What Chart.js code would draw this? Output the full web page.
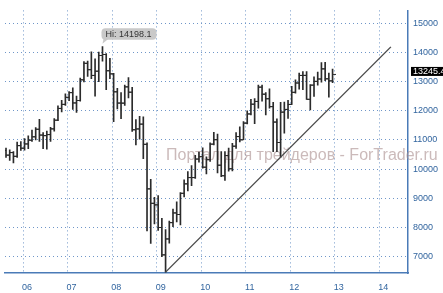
<!DOCTYPE html>
<html>
<head>
<meta charset="utf-8">
<script src="https://cdn.jsdelivr.net/npm/chart.js@4.4.1/dist/chart.umd.min.js"></script>
<style>
  html, body { margin: 0; padding: 0; background: #fff; overflow: hidden; }
  #wrap { width: 443px; height: 293px; }
</style>
</head>
<body>
<div id="wrap"><canvas id="djia-chart" width="443" height="293"></canvas></div>
<script>
// месячные бары, первый бар - июль 2005
const firstYear = 2005;
const firstMonth = 6; // 0 = январь

const opens = [
    10275, 10641, 10482, 10569, 10440, 10806,
    10718, 10865, 10993, 11109, 11367, 11168, 11150, 11186, 11381, 11679, 12081, 12221,
    12463, 12622, 12269, 12354, 13063, 13628, 13409, 13212, 13358, 13896, 13930, 13372,
    13265, 12650, 12266, 12263, 12820, 12638, 11350, 11378, 11544, 10851, 9325, 8829,
    8776, 8001, 7063, 7609, 8168, 8500, 8447, 9172, 9496, 9712, 9713, 10345,
    10428, 10067, 10325, 10857, 11009, 10137, 9774, 10466, 10015, 10788, 11118, 11006,
    11578, 11892, 12226, 12320, 12811, 12570, 12414, 12143, 11614, 10913, 11955, 12046,
    12218, 12633, 12952, 13212, 13214, 12393, 12880, 13009, 13091, 13437, 13096, 13026
];
const highs = [
    10720, 10720, 10660, 10600, 10930, 10940,
    11045, 11140, 11335, 11420, 11710, 11250, 11300, 11430, 11730, 12170, 12360, 12580,
    12660, 12790, 12500, 13120, 13690, 13700, 14020, 13780, 14010, 14198.1, 13960, 13800,
    13280, 12770, 12620, 12880, 13140, 12800, 11700, 11810, 11790, 10900, 9650, 9030,
    9090, 8310, 7930, 8220, 8630, 8880, 9200, 9630, 9920, 10120, 10470, 10580,
    10730, 10420, 10900, 11260, 11200, 10600, 10600, 10720, 10880, 11250, 11450, 11630,
    12000, 12390, 12420, 12880, 12880, 12620, 12750, 12290, 11720, 12290, 12300, 12360,
    12840, 13060, 13290, 13340, 13340, 12900, 13160, 13330, 13650, 13660, 13290, 13430
];
const lows = [
    10270, 10400, 10300, 10215, 10400, 10640,
    10650, 10700, 10950, 11000, 10950, 10700, 10680, 10950, 11300, 11660, 11960, 12180,
    12350, 12050, 11940, 12330, 12990, 13180, 13100, 12500, 13000, 13700, 12720, 13100,
    11630, 12060, 11730, 12180, 12440, 11290, 10830, 11030, 10360, 7880, 7450, 8120,
    7900, 7000, 6470, 7460, 8030, 8190, 8090, 9050, 9250, 9430, 9680, 10240,
    10030, 9840, 10260, 10830, 9870, 9740, 9610, 9930, 9940, 10710, 10930, 11010,
    11550, 11860, 11560, 12090, 12330, 11860, 12090, 10600, 10600, 10400, 11230, 11740,
    12220, 12600, 12740, 12720, 12390, 12030, 12490, 12880, 12980, 13030, 12470, 12960
];
const closes = [
    10641, 10482, 10569, 10440, 10806, 10718,
    10865, 10993, 11109, 11367, 11168, 11150, 11186, 11381, 11679, 12081, 12221, 12463,
    12622, 12269, 12354, 13063, 13628, 13409, 13212, 13358, 13896, 13930, 13372, 13265,
    12650, 12266, 12263, 12820, 12638, 11350, 11378, 11544, 10851, 9325, 8829, 8776,
    8001, 7063, 7609, 8168, 8500, 8447, 9172, 9496, 9712, 9713, 10345, 10428,
    10067, 10325, 10857, 11009, 10137, 9774, 10466, 10015, 10788, 11118, 11006, 11578,
    11892, 12226, 12320, 12811, 12570, 12414, 12143, 11614, 10913, 11955, 12046, 12218,
    12633, 12952, 13212, 13214, 12393, 12880, 13009, 13091, 13437, 13096, 13026, 13245.45
];

// линия тренда от минимума 2009 года
const trendX = [2009.2, 2014.26];
const trendY = [6470, 14190];

const yearTicks = [2006, 2007, 2008, 2009, 2010, 2011, 2012, 2013, 2014];
const priceTicks = [7000, 8000, 9000, 10000, 11000, 12000, 13000, 14000, 15000];
const watermarkText = "Портал для трейдеров - ForTrader.ru";

const barColor = "#2b2b2b";
const gridColor = "#6f96c8";
const axisColor = "#4a7bb7";
const labelColor = "#32659f";
const tickFont = { family: "'Liberation Sans', Arial, sans-serif", size: 9 };

// позиция бара на оси времени (в годах)
const xs = opens.map((o, i) => {
    const m = firstMonth + i;
    return firstYear + Math.floor(m / 12) + ((m % 12) + 0.4) / 12;
});

// засечки открытия / закрытия
function makeTick(side) {
    const c = document.createElement("canvas");
    c.width = 7;
    c.height = 3;
    const g = c.getContext("2d");
    g.fillStyle = barColor;
    if (side === "open") {
        g.fillRect(0, 1, 3.5, 1);
    } else {
        g.fillRect(3.5, 1, 3.5, 1);
    }
    return c;
}

const overlayPlugin = {
    id: "overlay",
    beforeDatasetsDraw(chart) {
        const ctx = chart.ctx;
        ctx.save();
        ctx.font = "16px 'Liberation Sans', sans-serif";
        ctx.fillStyle = "rgba(168, 140, 140, 0.6)";
        ctx.textBaseline = "alphabetic";
        ctx.fillText(watermarkText, 166, 160);
        ctx.restore();
    },
    afterDraw(chart) {
        const ctx = chart.ctx;
        const x = chart.scales.x;
        const y = chart.scales.y;
        const font = tickFont.size + "px " + tickFont.family;

        // метка максимума
        const hiIndex = highs.indexOf(Math.max(...highs));
        const hx = x.getPixelForValue(xs[hiIndex]);
        const hy = y.getPixelForValue(highs[hiIndex]);
        const boxX = hx - 1, boxY = hy - 18.5, boxW = 55, boxH = 11.5;
        ctx.save();
        ctx.fillStyle = "#c9c9c9";
        ctx.beginPath();
        ctx.roundRect(boxX, boxY, boxW, boxH, 4);
        ctx.fill();
        ctx.beginPath();
        ctx.moveTo(boxX + 2, boxY + boxH - 1);
        ctx.lineTo(boxX + 7, boxY + boxH - 1);
        ctx.lineTo(boxX + 1, boxY + boxH + 4);
        ctx.closePath();
        ctx.fill();
        ctx.fillStyle = "#333";
        ctx.font = font;
        ctx.textBaseline = "middle";
        ctx.fillText("Hi: " + highs[hiIndex], boxX + 4, boxY + boxH / 2 + 0.5);

        // последняя цена
        const last = closes[closes.length - 1];
        const ly = y.getPixelForValue(last) - 3;
        ctx.fillStyle = "#000";
        ctx.fillRect(x.right + 3, ly - 4.5, 40, 9);
        ctx.fillStyle = "#fff";
        ctx.fillText(String(last), x.right + 5, ly + 0.5);
        ctx.restore();
    }
};

const ctx = document.getElementById("djia-chart").getContext("2d");

new Chart(ctx, {
    type: "bar",
    data: {
        datasets: [
            {
                type: "bar",
                data: xs.map((v, i) => ({ x: v, y: [lows[i], highs[i]] })),
                backgroundColor: barColor,
                barThickness: 1,
                grouped: false,
                order: 2
            },
            {
                type: "line",
                data: xs.map((v, i) => ({ x: v, y: opens[i] })),
                showLine: false,
                pointStyle: makeTick("open"),
                order: 2
            },
            {
                type: "line",
                data: xs.map((v, i) => ({ x: v, y: closes[i] })),
                showLine: false,
                pointStyle: makeTick("close"),
                order: 2
            },
            {
                type: "line",
                data: trendX.map((v, i) => ({ x: v, y: trendY[i] })),
                borderColor: "#4a4a4a",
                borderWidth: 1.4,
                pointRadius: 0,
                order: 1
            }
        ]
    },
    options: {
        responsive: false,
        devicePixelRatio: 1,
        animation: false,
        events: [],
        layout: { padding: 0 },
        plugins: {
            legend: { display: false },
            tooltip: { enabled: false }
        },
        scales: {
            x: {
                type: "linear",
                position: "bottom",
                min: 2005.594,
                max: 2014.644,
                offset: false,
                afterBuildTicks: s => { s.ticks = yearTicks.map(v => ({ value: v })); },
                afterFit: s => { s.height = 20; },
                grid: {
                    offset: false,
                    color: gridColor,
                    lineWidth: 1,
                    drawTicks: false
                },
                border: { color: axisColor, width: 1.5, dash: [1, 3] },
                ticks: {
                    color: labelColor,
                    font: tickFont,
                    padding: 9,
                    labelOffset: 4,
                    maxRotation: 0,
                    callback: v => String(v).slice(2)
                }
            },
            y: {
                type: "linear",
                position: "right",
                min: 6440,
                max: 15440,
                afterBuildTicks: s => { s.ticks = priceTicks.map(v => ({ value: v })); },
                afterFit: s => { s.width = 35; },
                grid: {
                    color: gridColor,
                    lineWidth: 1,
                    drawTicks: false
                },
                border: { color: axisColor, width: 1.5, dash: [1, 3] },
                ticks: {
                    color: labelColor,
                    font: tickFont,
                    padding: 5,
                    callback: v => String(v)
                }
            }
        }
    },
    plugins: [overlayPlugin]
});
</script>
</body>
</html>
